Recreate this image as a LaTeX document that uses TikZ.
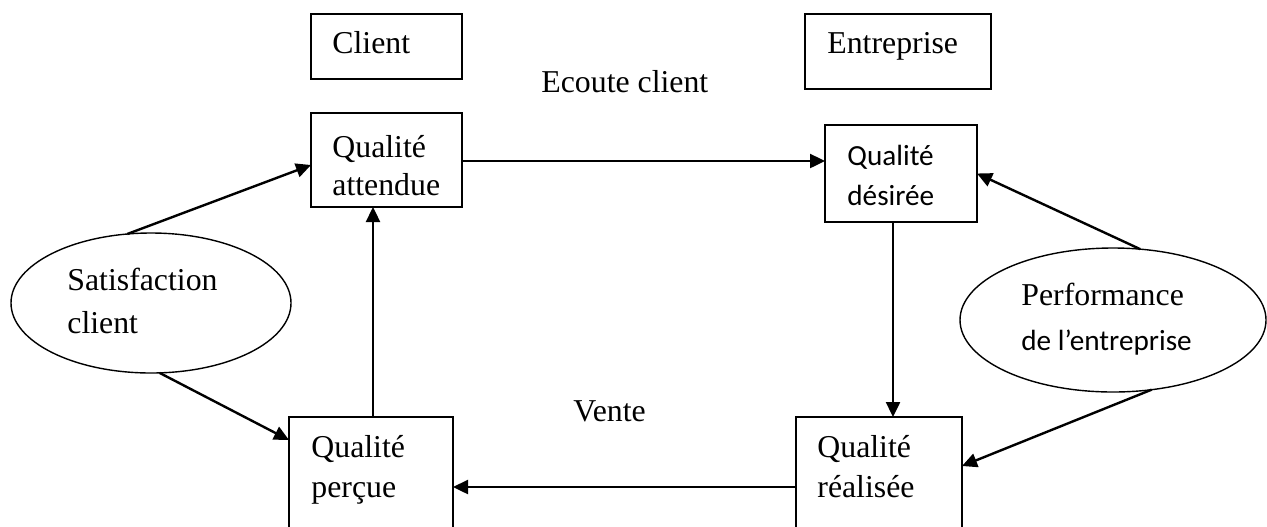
\documentclass[tikz,border=0pt]{standalone}
\usepackage{fontspec}
\setmainfont{Liberation Serif}
\newfontfamily\calibri{Carlito}
\usetikzlibrary{shapes.geometric,arrows.meta,calc}

% two lines of text, left aligned, baseline on the first line
\newcommand{\twolines}[2]{\begin{tabular}[t]{@{}l@{}}#1\\#2\end{tabular}}

\tikzset{
  box/.style={draw, rectangle, line width=0.95pt, inner sep=0pt, outer sep=0pt},
  oval/.style={draw, ellipse, line width=0.7pt, inner sep=0pt, outer sep=0pt},
  txt/.style={inner sep=0pt, anchor=base west, font=\fontsize{15.9pt}{19pt}\selectfont},
  arr/.style={line width=1.2pt, -{Triangle[length=7.5pt,width=7pt]}},
}

\begin{document}
\begin{tikzpicture}[x=0.5pt,y=-0.5pt]
\path[use as bounding box] (0,0) rectangle (1267,526);
\clip (0,0) rectangle (1267,526);

% header boxes
\node[box, minimum width=75.5pt, minimum height=32.5pt] (client) at (386.5,46.5) {};
\node[txt] (client-t) at (332,53) {Client};
\node[box, minimum width=93pt, minimum height=37.5pt] (entr) at (898,51.5) {};
\node[txt] (entr-t) at (827,53) {Entreprise};
\node[txt] (ecoute) at (541,92) {Ecoute client};

% upper quality boxes
\node[box, minimum width=75.5pt, minimum height=47pt] (att) at (386.5,160) {};
\node[txt] (att-t) at (332,157) {\twolines{Qualité}{attendue}};
\node[box, minimum width=76pt, minimum height=48.5pt] (des) at (901,173.5) {};
\node[txt, font=\calibri\fontsize{14.6pt}{20pt}\selectfont] (des-t) at (847,165) {\twolines{Qualité}{désirée}};

% ellipses
\node[oval, minimum width=140pt, minimum height=70pt] (sat) at (151,303) {};
\node[txt, font=\fontsize{15.9pt}{21.5pt}\selectfont] (sat-t) at (67,290) {\twolines{Satisfaction}{client}};
\node[oval, minimum width=153pt, minimum height=72pt] (perf) at (1113,320) {};
\node[txt, font=\fontsize{15.9pt}{22.5pt}\selectfont] (perf-t) at (1021,305)
  {\twolines{Performance}{\calibri\fontsize{14.6pt}{22.5pt}\selectfont de l’entreprise}};

% lower quality boxes
\node[txt] (vente) at (573,421) {Vente};
\node[box, minimum width=82pt, minimum height=70pt] (perc) at (371,487) {};
\node[txt, font=\fontsize{15.9pt}{20pt}\selectfont] (perc-t) at (311,457) {\twolines{Qualité}{perçue}};
\node[box, minimum width=83pt, minimum height=70pt] (real) at (879,487) {};
\node[txt, font=\fontsize{15.9pt}{20pt}\selectfont] (real-t) at (817,457) {\twolines{Qualité}{réalisée}};

% connectors
\draw[arr] (sat.109) -- ([yshift=-2.5pt]att.west);
\draw[arr] (sat.277) -- ([yshift=-11.5pt]perc.north west);
\draw[arr] ([xshift=1pt]perc.north) -- ([xshift=1pt]perc.north |- att.south);
\draw[arr] ([yshift=-0.5pt]att.east) -- ([yshift=-0.5pt]att.east -| des.west);
\draw[arr] ([xshift=-4pt]des.south) -- ([xshift=-4pt]des.south |- real.north);
\draw[arr] (perf.69) -- (des.east);
\draw[arr] (perf.299) -- ([yshift=-24.5pt]real.north east);
\draw[arr] (real.west) -- (perc.east);
\end{tikzpicture}
\end{document}
